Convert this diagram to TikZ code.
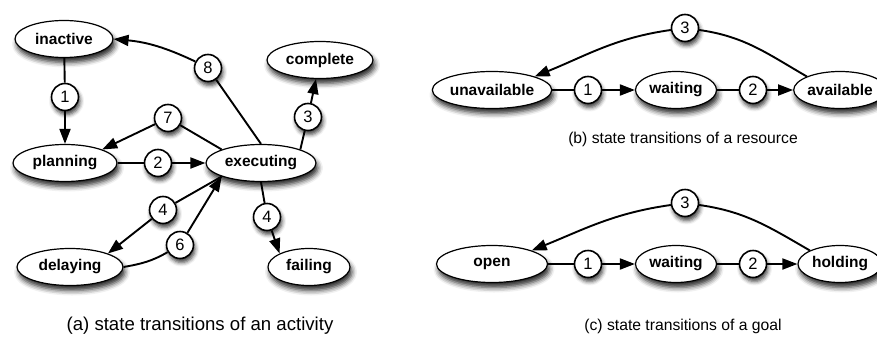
\documentclass[tikz,border=0pt]{standalone}
\usepackage{fontspec}
\setmainfont{Liberation Sans}
\usetikzlibrary{shapes.geometric, arrows.meta, shadows.blur}
\tikzstyle{state} = [ellipse, draw=black, fill=white, line width=1.2pt, minimum height=37pt, inner sep=0pt, font=\fontsize{15.5}{18}\selectfont\bfseries, blur shadow={shadow xshift=2pt, shadow yshift=-5pt, shadow blur radius=5pt, shadow opacity=85}]
\tikzstyle{num} = [circle, draw=black, fill=white, line width=1.6pt, minimum size=27pt, inner sep=0pt, font=\fontsize{16.5}{18}\selectfont, blur shadow={shadow xshift=1.5pt, shadow yshift=-4pt, shadow blur radius=4pt, shadow opacity=75}]
\tikzstyle{link} = [line width=1.9pt]
\tikzstyle{arrow} = [link, -{Triangle[length=15pt, width=11pt]}]
\tikzstyle{caption} = [font=\fontsize{15.7}{18}\selectfont]
\begin{document}
\begin{tikzpicture}[x=1pt, y=1pt]
  \useasboundingbox (0,0) rectangle (877,-340);
  % (a) activity
  \node (inactive) [state, minimum width=98pt] at (64,-39) {inactive};
  \node (complete) [state, minimum width=106pt] at (320,-60) {complete};
  \node (planning) [state, minimum width=104pt] at (65,-163) {planning};
  \node (executing) [state, minimum width=110pt] at (261,-163) {executing};
  \node (delaying) [state, minimum width=106pt] at (70,-267) {delaying};
  \node (failing) [state, minimum width=82pt] at (309,-267) {failing};

  \node (t1) [num] at (65,-97) {1};
  \node (t2) [num] at (158,-163) {2};
  \node (t3) [num] at (308,-117) {3};
  \node (t4a) [num] at (163,-210) {4};
  \node (t4b) [num] at (267,-217) {4};
  \node (t6) [num] at (180,-245) {6};
  \node (t7) [num] at (168,-118) {7};
  \node (t8) [num] at (208,-68) {8};

  \draw [link] (inactive) -- (t1);
  \draw [arrow] (t1) -- (planning);
  \draw [link] (planning) -- (t2);
  \draw [arrow] (t2) -- (executing);
  \draw [link] (executing.north east) -- (t3);
  \draw [arrow] (t3) -- (complete);
  \draw [link] (executing.south) -- (t4b);
  \draw [arrow] (t4b) -- (failing.north west);
  \draw [link] (executing.south west) -- (t4a);
  \draw [arrow] (t4a) -- (delaying.north east);
  \draw [link] (delaying.east) to[out=10, in=-150] (t6);
  \draw [arrow] (t6) -- (executing.south west);
  \draw [link] (executing.north west) -- (t7);
  \draw [arrow] (t7) -- (planning.north east);
  \draw [link] (executing.north) -- (t8);
  \draw [arrow] (t8) to[bend right=10] (inactive.east);

  \node (capa) [caption, font=\fontsize{18.6}{20}\selectfont] at (200,-326) {(a) state transitions of an activity};

  % (b) resource
  \node (unavail) [state, minimum width=111pt] at (492,-90) {unavailable};
  \node (waitres) [state, minimum width=81pt] at (676,-90) {waiting};
  \node (avail) [state, minimum width=84pt] at (840,-90) {available};

  \node (r1) [num] at (588,-90) {1};
  \node (r2) [num] at (753,-90) {2};
  \node (r3) [num] at (685,-28) {3};

  \draw [link] (unavail) -- (r1);
  \draw [arrow] (r1) -- (waitres);
  \draw [link] (waitres) -- (r2);
  \draw [arrow] (r2) -- (avail);
  \draw [link] (avail.north west) to[out=150, in=-8] (r3);
  \draw [arrow] (r3) to[out=188, in=22] (unavail.north east);

  \node (capb) [caption] at (683,-139) {(b) state transitions of a resource};

  % (c) goal
  \node (open) [state, minimum width=111pt] at (492,-264) {open};
  \node (waitgoal) [state, minimum width=81pt] at (676,-264) {waiting};
  \node (holding) [state, minimum width=84pt] at (840,-264) {holding};

  \node (g1) [num] at (588,-264) {1};
  \node (g2) [num] at (753,-264) {2};
  \node (g3) [num] at (685,-203) {3};

  \draw [link] (open) -- (g1);
  \draw [arrow] (g1) -- (waitgoal);
  \draw [link] (waitgoal) -- (g2);
  \draw [arrow] (g2) -- (holding);
  \draw [link] (holding.north west) to[out=150, in=-8] (g3);
  \draw [arrow] (g3) to[out=188, in=22] (open.north east);

  \node (capc) [caption] at (683,-326) {(c) state transitions of a goal};
\end{tikzpicture}
\end{document}
